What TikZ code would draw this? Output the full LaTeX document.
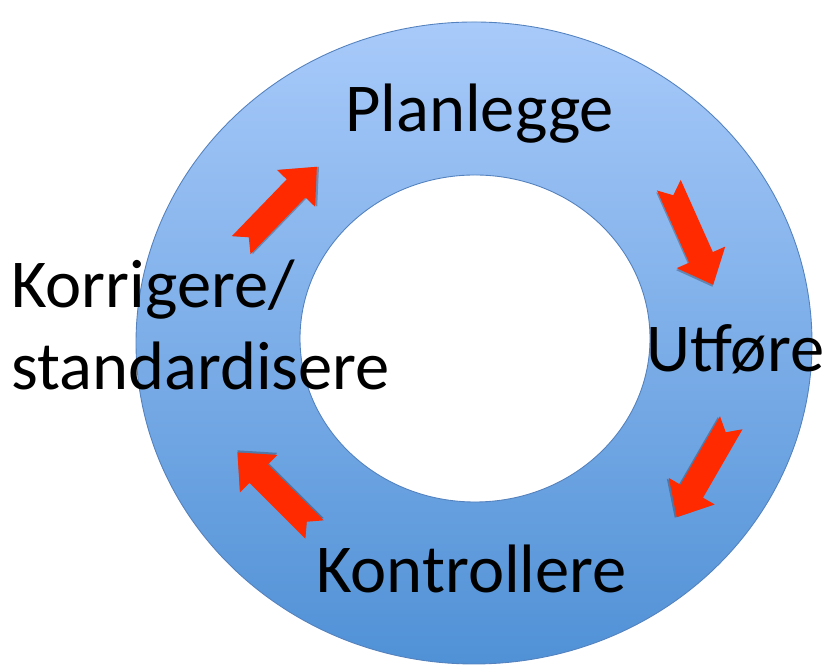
\documentclass[tikz,border=0pt]{standalone}
\usepackage{fontspec}
\setmainfont{Carlito}
\usepackage{tikz}
\definecolor{ringtop}{RGB}{168,202,250}
\definecolor{ringbottom}{RGB}{80,145,214}
\definecolor{ringedge}{RGB}{84,130,190}
\definecolor{arrowred}{RGB}{255,42,0}
\tikzstyle{phase} = [inner sep=0pt, anchor=base west, font=\fontsize{39}{46}\selectfont]
\tikzstyle{ring} = [top color=ringtop, bottom color=ringbottom, even odd rule]
\tikzset{
  turnarrow/.pic={
    \fill[black, opacity=0.25, shift={(0.03,-0.03)}] (-1.09,0.26) -- (0.49,0.26) -- (0.49,0.53) -- (1.09,0) -- (0.49,-0.53) -- (0.49,-0.26) -- (-1.09,-0.26) -- (-0.87,0) -- cycle;
    \fill[arrowred] (-1.09,0.26) -- (0.49,0.26) -- (0.49,0.53) -- (1.09,0) -- (0.49,-0.53) -- (0.49,-0.26) -- (-1.09,-0.26) -- (-0.87,0) -- cycle;
  }
}

\begin{document}
\begin{tikzpicture}

    \useasboundingbox (0,0) rectangle (16.52,13.32);

    % ring
    \shade[ring] (9.48,6.46) ellipse [x radius=6.76, y radius=6.42]
                 (9.5,6.55) ellipse [x radius=3.5, y radius=3.27];
    \draw[ringedge, line width=0.5pt] (9.48,6.46) ellipse [x radius=6.76, y radius=6.42];
    \draw[ringedge, line width=0.5pt] (9.5,6.55) ellipse [x radius=3.5, y radius=3.27];

    % arrows
    \pic[rotate=46] (arrplan) at (5.58,9.2) {turnarrow};
    \pic[rotate=-66] (arrutf) at (13.82,8.62) {turnarrow};
    \pic[rotate=240] (arrkon) at (14.08,3.92) {turnarrow};
    \pic[rotate=135] (arrkor) at (5.52,3.5) {turnarrow};

    % phases
    \node (plan) [phase] at (6.9,10.68) {Planlegge};
    \node (utf) [phase] at (12.92,5.88) {Utføre};
    \node (kon) [phase] at (6.32,1.46) {Kontrollere};
    \node (kor) [phase] at (0.22,7.16) {Korrigere/};
    \node (std) [phase] at (0.22,5.52) {standardisere};

\end{tikzpicture}
\end{document}
